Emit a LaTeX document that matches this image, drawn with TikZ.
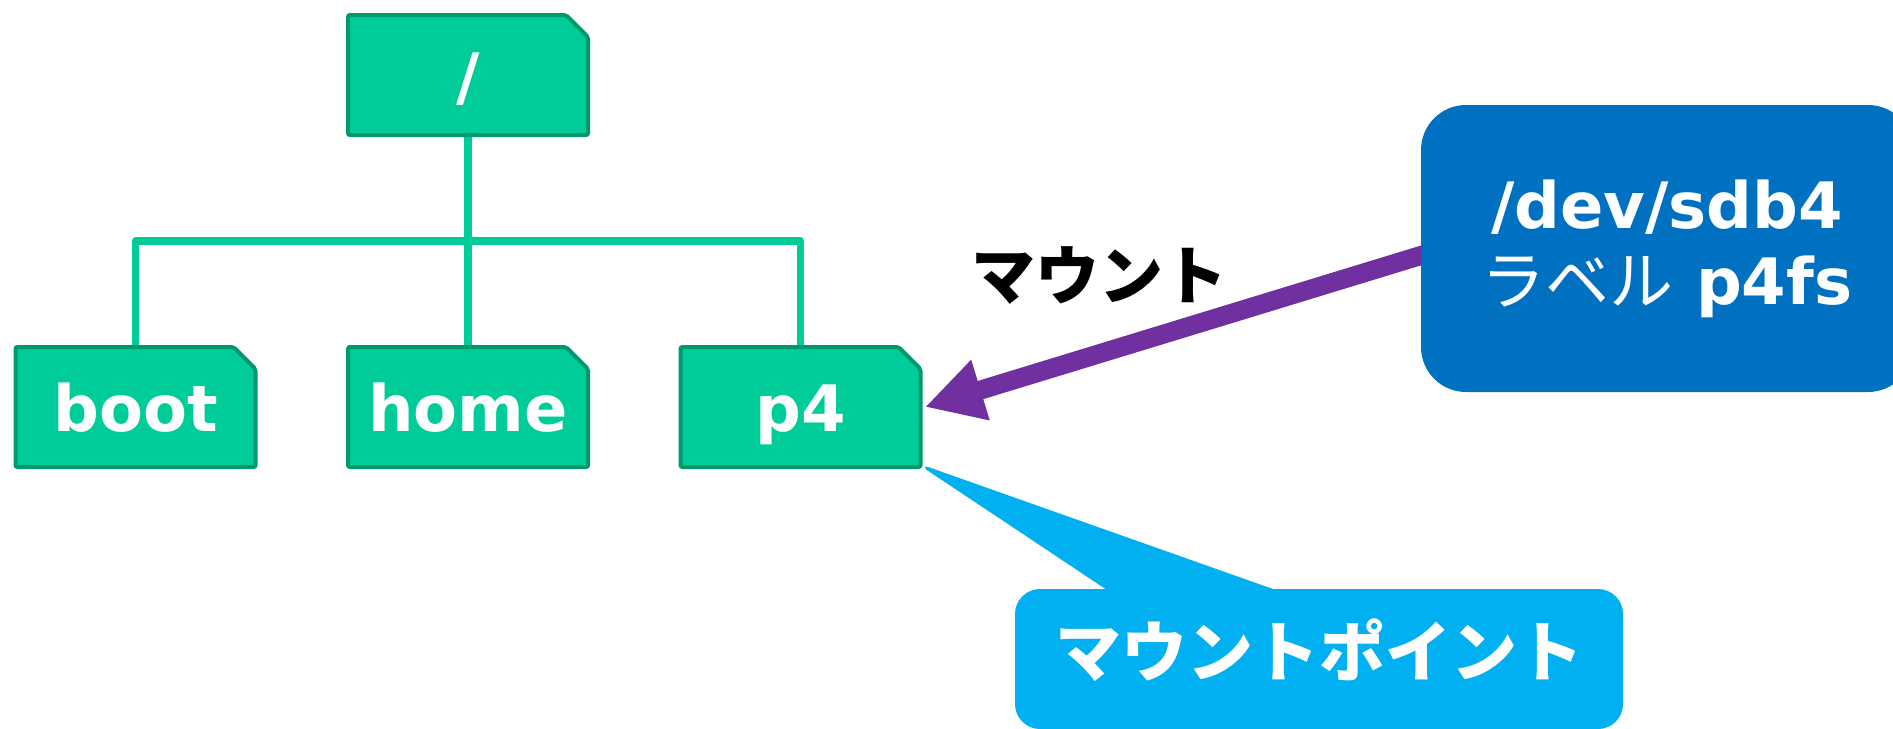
\documentclass[tikz,border=0pt]{standalone}
\usepackage{fontspec}
\setmainfont{DejaVu Sans}
\newfontfamily\jp{Noto Sans CJK JP}
\usetikzlibrary{shapes.misc,arrows.meta,backgrounds,calc}
\definecolor{dirfill}{HTML}{00CC99}
\definecolor{dirline}{HTML}{00996E}
\definecolor{devblue}{HTML}{0070C0}
\definecolor{mountpurple}{HTML}{7030A0}
\definecolor{calloutblue}{HTML}{00B0F0}
\tikzset{
  dirbox/.style={chamfered rectangle, chamfered rectangle corners=north east,
    chamfered rectangle xsep=5.5pt, chamfered rectangle ysep=5.5pt,
    fill=dirfill, draw=dirline, line width=2pt, rounded corners=1pt,
    minimum width=120pt, minimum height=60pt, inner sep=0pt,
    text=white, font=\fontsize{32pt}{38pt}\selectfont\bfseries,
    text height=24.3pt, text depth=0pt},
  treeline/.style={draw=dirfill, line width=3.8pt, line join=round},
  devbox/.style={rectangle, fill=devblue, rounded corners=22.5pt,
    minimum width=246pt, minimum height=143.5pt, inner sep=0pt,
    text=white, align=center, font=\fontsize{32pt}{38pt}\selectfont\bfseries},
  mpbox/.style={rectangle, fill=calloutblue, rounded corners=12.5pt,
    minimum width=304pt, minimum height=70pt, inner sep=0pt,
    text=white, font=\fontsize{33pt}{38pt}\selectfont\jp\bfseries,
    text height=26.2pt, text depth=8.8pt},
  mountlabel/.style={inner sep=0pt, text=black, font=\fontsize{32pt}{38pt}\selectfont\jp\bfseries},
  mountarrow/.style={draw=mountpurple, line width=9.5pt,
    -{Triangle[length=29pt,width=29.5pt]}},
  pointer/.style={fill=calloutblue, draw=calloutblue, line width=1.5pt, line join=round}
}
\begin{document}
\begin{tikzpicture}[x=0.5pt,y=-0.5pt]
\useasboundingbox (0,0) rectangle (1893,728);
\node[dirbox] (root) at (468,75) {/};
\node[dirbox] (boot) at (135.5,407) {boot};
\node[dirbox] (home) at (468,407) {home};
\node[dirbox] (p4) at (800.5,407) {p4};
\coordinate (bus) at (468,241);
\node[devbox] (dev) at (1667,248.5) {/dev/sdb4\\{\jp\mdseries ラベル} p4fs};
\node[mpbox] (mp) at (1319,659) {マウントポイント};
\node[mountlabel] (mlabel) at (1099,276) {マウント};
\begin{scope}[on background layer]
  \draw[treeline] (root.south) -- (home.north);
  \draw[treeline] (boot.north) |- (bus) -| (p4.north);
  \draw[mountarrow] ([xshift=5pt,yshift=-2pt]dev.west) -- ([xshift=1.25pt]p4.east);
  \filldraw[pointer] ([xshift=2pt,yshift=0.5pt]p4.south east) -- ($(mp.north west)+(99,4)$) -- ($(mp.north west)+(264,4)$) -- cycle;
\end{scope}
\end{tikzpicture}
\end{document}
